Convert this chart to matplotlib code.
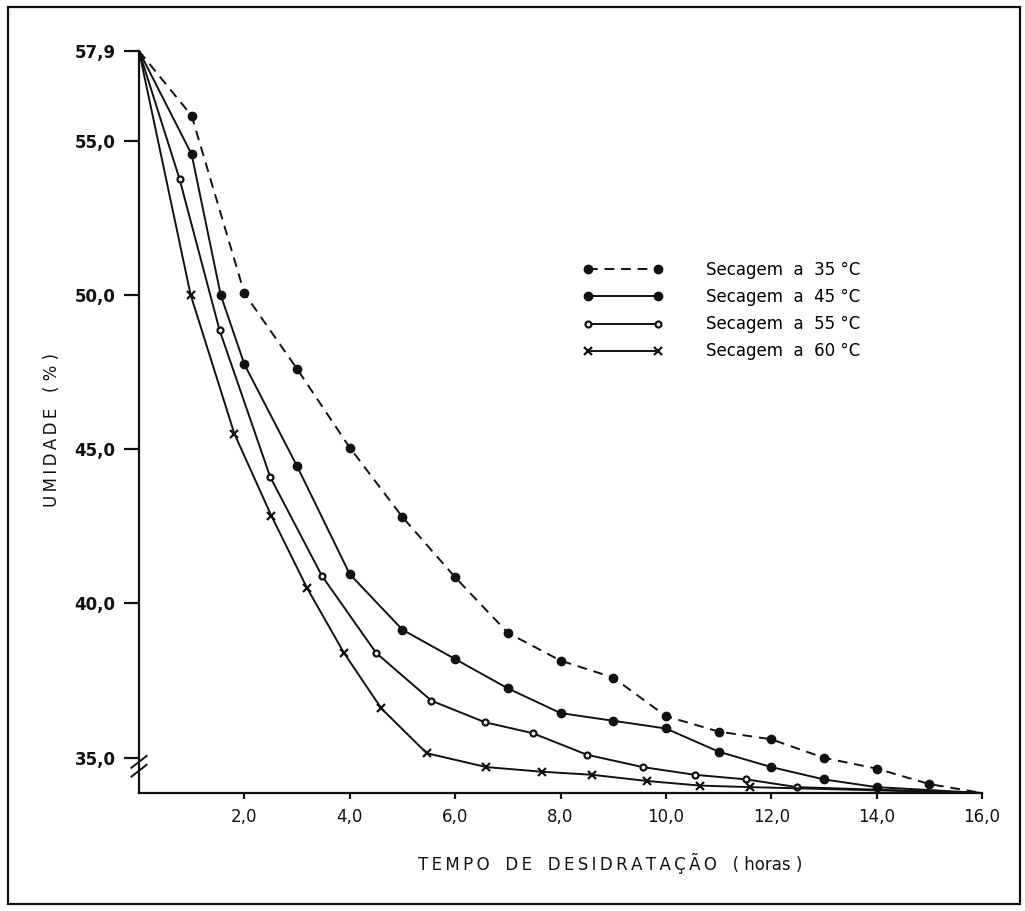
import numpy as np
import matplotlib
matplotlib.use('Agg')
import matplotlib.pyplot as plt
from matplotlib.patches import Rectangle

# drying curves (time in hours, moisture in %)
t35 = [0, 1, 2, 3, 4, 5, 6, 7, 8, 9, 10, 11, 12, 13, 14, 15, 16]
u35 = [57.9, 55.8, 50.05, 47.6, 45.05, 42.8, 40.85, 39.05, 38.15, 37.6,
       36.35, 35.85, 35.6, 35.0, 34.65, 34.15, 33.86]

t45 = [0, 1, 1.55, 2, 3, 4, 5, 6, 7, 8, 9, 10, 11, 12, 13, 14, 16]
u45 = [57.9, 54.55, 50.0, 47.75, 44.45, 40.95, 39.15, 38.2, 37.25, 36.45,
       36.2, 35.95, 35.2, 34.7, 34.3, 34.05, 33.86]

t55 = [0, 0.77, 1.53, 2.49, 3.47, 4.5, 5.55, 6.57, 7.47, 8.5, 9.56, 10.55,
       11.53, 12.49, 16]
u55 = [57.9, 53.75, 48.85, 44.1, 40.9, 38.4, 36.85, 36.15, 35.8, 35.1,
       34.7, 34.45, 34.3, 34.05, 33.86]

t60 = [0, 0.98, 1.81, 2.51, 3.19, 3.89, 4.6, 5.46, 6.59, 7.64, 8.6, 9.64,
       10.65, 11.6, 16]
u60 = [57.9, 50.0, 45.5, 42.85, 40.5, 38.4, 36.6, 35.15, 34.7, 34.55,
       34.45, 34.25, 34.1, 34.05, 33.86]

labels = ['Secagem  a  35 °C', 'Secagem  a  45 °C',
          'Secagem  a  55 °C', 'Secagem  a  60 °C']

xticks = [2, 4, 6, 8, 10, 12, 14, 16]
xticklabels = ['2,0', '4,0', '6,0', '8,0', '10,0', '12,0', '14,0', '16,0']
yticks = [35.0, 40.0, 45.0, 50.0, 55.0, 57.9]
yticklabels = ['35,0', '40,0', '45,0', '50,0', '55,0', '57,9']

ink = '#111111'

def spaced(s):
    # spread the capitals out like the lettering on the original drawing
    return '\u2009'.join(s)

fig = plt.figure(figsize=(10.25, 9.11), dpi=100)
ax = fig.add_axes([139/1025, 1-793/911, (982-139)/1025, (793-51)/911])

lw = 1.4
mev = slice(1, -1)
ax.plot(t35, u35, color=ink, lw=lw, ls=(0, (5, 3.5)), marker='o', ms=6,
        mfc=ink, mec=ink, markevery=mev, label=labels[0])
ax.plot(t45, u45, color=ink, lw=lw, marker='o', ms=6,
        mfc=ink, mec=ink, markevery=mev, label=labels[1])
ax.plot(t55, u55, color=ink, lw=lw, marker='o', ms=4.3,
        mfc='white', mec=ink, mew=1.6, markevery=mev, label=labels[2])
ax.plot(t60, u60, color=ink, lw=lw, marker='x', ms=6,
        mec=ink, mew=1.6, markevery=mev, label=labels[3])

ax.set_xlim(0, 16)
ax.set_ylim(33.86, 57.9)
for side in ['top', 'right']:
    ax.spines[side].set_visible(False)
for side in ['left', 'bottom']:
    ax.spines[side].set_linewidth(1.6)
    ax.spines[side].set_color(ink)

ax.set_xticks(xticks)
ax.set_xticklabels(xticklabels, fontsize=12)
ax.set_yticks(yticks)
ax.set_yticklabels(yticklabels, fontsize=12, fontweight='bold')
ax.tick_params(axis='y', direction='out', length=11, width=1.6, pad=6, colors=ink)
ax.tick_params(axis='x', direction='out', length=4, width=1.6, pad=7, colors=ink)

# break mark on the y axis
for yb in [0.022, 0.034]:
    ax.plot([-0.009, 0.009], [yb, yb + 0.016], color=ink, lw=1.4,
            transform=ax.transAxes, clip_on=False)

leg = ax.legend(loc='upper left', bbox_to_anchor=(583/1025, 1-261/911),
                bbox_transform=fig.transFigure, frameon=False, numpoints=2,
                fontsize=12, handlelength=4.8, handletextpad=2.6,
                labelspacing=0.55, borderpad=0, borderaxespad=0)

xlab = spaced('TEMPO') + '   ' + spaced('DE') + '   ' + spaced('DESIDRATAÇÃO') + '   ( horas )'
fig.text(610/1025, 1-863/911, xlab, ha='center', va='center', fontsize=12, color=ink)
ylab = spaced('UMIDADE') + '   ( % )'
fig.text(52/1025, 1-430/911, ylab, rotation=90,
         ha='center', va='center', fontsize=12, color=ink)

# scanned page border
fig.patches.append(Rectangle((8/1025, 1-904/911), 1012/1025, 897/911,
                             transform=fig.transFigure, fill=False,
                             edgecolor=ink, lw=1.6))

fig.savefig('out.png', dpi=100)
